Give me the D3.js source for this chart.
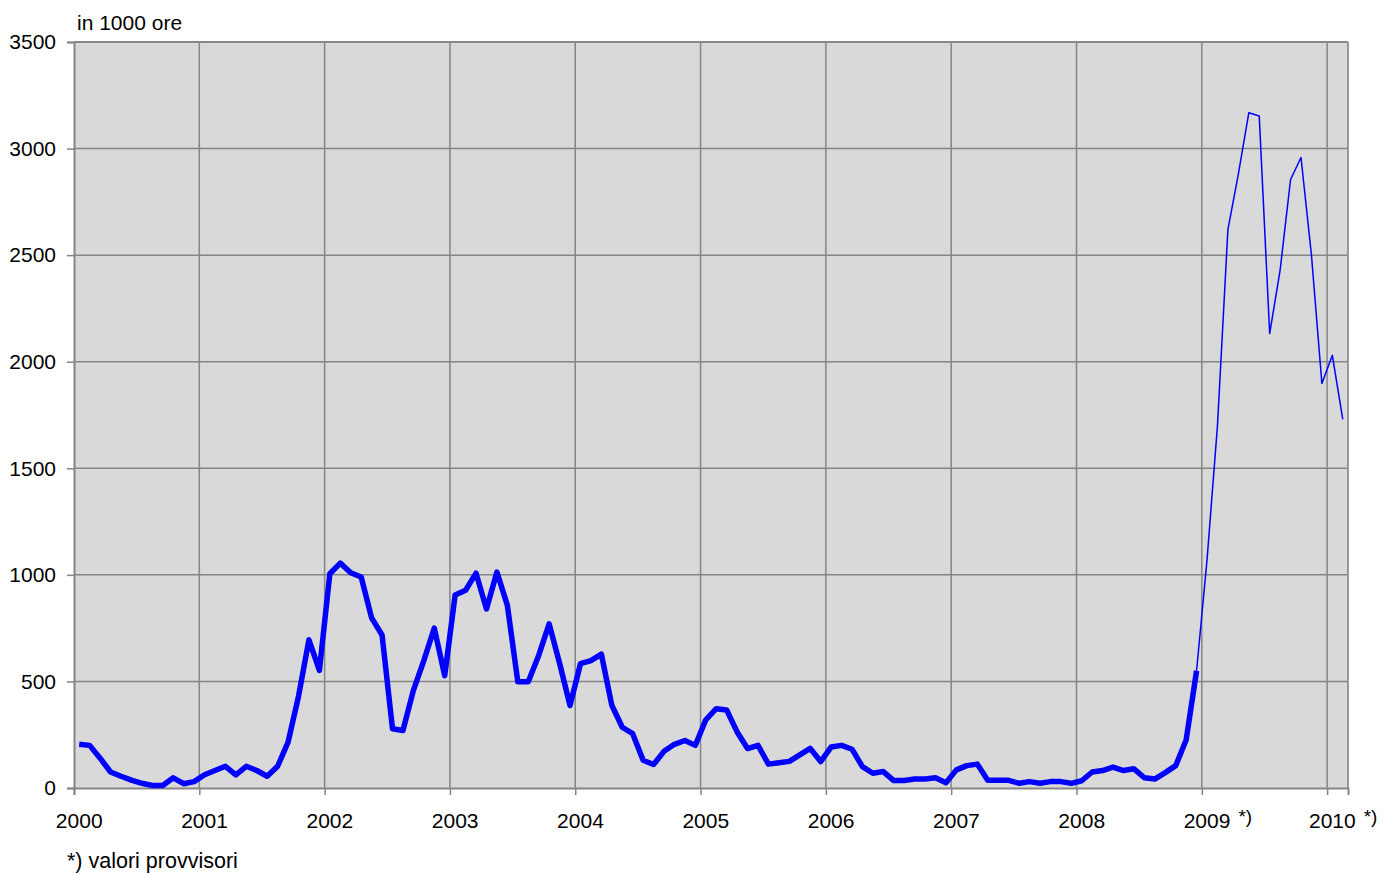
<!DOCTYPE html>
<html>
<head>
<meta charset="utf-8">
<script src="https://cdn.jsdelivr.net/npm/d3@7"></script>
<style>
  html, body { margin: 0; padding: 0; background: #ffffff; }
  svg { display: block; font-family: "Liberation Sans", Arial, sans-serif; }
</style>
</head>
<body>
<svg id="chart" width="1395" height="874"></svg>
<script>
// ---- Data (monthly, Jan 2000 – Feb 2010, in 1000 hours) ----
const yearLabels = ["2000","2001","2002","2003","2004","2005","2006","2007","2008","2009","2010"];
const provisionalYears = ["2009","2010"];
const yTicks = [0, 500, 1000, 1500, 2000, 2500, 3000, 3500];
const values = [
  205, 200, 140, 75, 55, 37, 22, 12, 12, 48, 20, 30,          // 2000
  62, 82, 102, 62, 102, 82, 55, 102, 215, 430, 695, 552,     // 2001
  1005, 1055, 1010, 990, 798, 718, 278, 270, 458, 598, 750, 527, // 2002
  906, 928, 1008, 840, 1013, 857, 498, 498, 622, 770, 585, 387,  // 2003
  583, 598, 628, 388, 285, 255, 130, 110, 172, 205, 223, 200,    // 2004
  320, 372, 366, 263, 185, 200, 112, 118, 125, 155, 186, 124,    // 2005
  192, 200, 182, 100, 69, 77, 35, 35, 42, 42, 48, 25,            // 2006
  85, 105, 112, 36, 36, 36, 22, 30, 22, 30, 30, 22,              // 2007
  34, 75, 82, 98, 82, 90, 48, 42, 72, 105, 225, 550,             // 2008
  1070, 1700, 2620, 2880, 3168, 3153, 2132, 2430, 2855, 2958, 2500, 1898, // 2009 *)
  2030, 1730                                                      // 2010 *)
];
const provisionalFrom = 107; // Dec 2008: thin line (provisional values) starts here
const unitLabel = "in 1000 ore";
const noteLabel = "*) valori provvisori";

// ---- Layout ----
const L = 74, R = 1348, T = 42, B = 788;
const svg = d3.select("#chart");
const nMonths = 122;

const x = d3.scaleLinear().domain([0, nMonths]).range([L, R]);
const y = d3.scaleLinear().domain([0, 3500]).range([B, T]);

// Plot background
svg.append("rect").attr("x", L).attr("y", T).attr("width", R - L).attr("height", B - T)
  .attr("fill", "#D9D9D9");

// Horizontal gridlines
svg.append("g").selectAll("line").data(yTicks.filter(v => v > 0)).join("line")
  .attr("x1", L).attr("x2", R).attr("y1", d => y(d)).attr("y2", d => y(d))
  .attr("stroke", "#858585").attr("stroke-width", 1.5);

// Vertical gridlines (at each January)
svg.append("g").selectAll("line").data(yearLabels.map((d, i) => i * 12).filter(v => v > 0)).join("line")
  .attr("x1", d => x(d)).attr("x2", d => x(d)).attr("y1", T).attr("y2", B)
  .attr("stroke", "#858585").attr("stroke-width", 1.5);

// Borders
svg.append("line").attr("x1", L).attr("x2", R).attr("y1", T).attr("y2", T)
  .attr("stroke", "#888").attr("stroke-width", 2);
svg.append("line").attr("x1", R).attr("x2", R).attr("y1", T).attr("y2", B)
  .attr("stroke", "#999").attr("stroke-width", 2);

// Y axis
const yAxis = svg.append("g").attr("transform", `translate(${L},0)`)
  .call(d3.axisLeft(y).tickValues(yTicks).tickSize(7).tickPadding(10).tickFormat(d3.format("d")));
yAxis.select(".domain").attr("stroke", "#858585").attr("stroke-width", 2);
yAxis.selectAll(".tick line").attr("stroke", "#858585").attr("stroke-width", 1.5);
yAxis.selectAll(".tick text").attr("font-size", 21).attr("fill", "#000")
  .attr("font-family", "Liberation Sans, Arial, sans-serif").attr("dx", "-1");

// X axis (ticks at each January, labels at first month centre)
const xAxis = svg.append("g").attr("transform", `translate(0,${B})`)
  .call(d3.axisBottom(x).tickValues(yearLabels.map((d, i) => i * 12)).tickSize(7).tickFormat(""));
xAxis.select(".domain").attr("stroke", "#858585").attr("stroke-width", 2);
xAxis.selectAll(".tick line").attr("stroke", "#858585").attr("stroke-width", 1.5);

const xl = svg.append("g");
yearLabels.forEach((lab, i) => {
  const cx = x(i * 12 + 0.5);
  const t = xl.append("text").attr("x", cx).attr("y", 828).attr("text-anchor", "middle")
    .attr("font-size", 21).attr("fill", "#000").text(lab);
  if (provisionalYears.includes(lab)) {
    const w = t.node().getComputedTextLength();
    xl.append("text").attr("x", cx + w / 2 + 8).attr("y", 823)
      .attr("font-size", 19).attr("fill", "#000").text("*)");
  }
});

// Lines
const line = d3.line().x(d => x(d.i + 0.5)).y(d => y(d.v));
const pts = values.map((v, i) => ({ i, v }));

svg.append("path").datum(pts.slice(provisionalFrom))
  .attr("d", line).attr("fill", "none").attr("stroke", "#0000FF")
  .attr("stroke-width", 1.5).attr("stroke-linejoin", "round");

svg.append("path").datum(pts.slice(0, provisionalFrom + 1))
  .attr("d", line).attr("fill", "none").attr("stroke", "#0000FF")
  .attr("stroke-width", 5.5).attr("stroke-linejoin", "round").attr("stroke-linecap", "butt");

// Texts
svg.append("text").attr("x", 77).attr("y", 30).attr("font-size", 21).attr("fill", "#000").text(unitLabel);
svg.append("text").attr("x", 67).attr("y", 868).attr("font-size", 21.5).attr("fill", "#000").text(noteLabel);
</script>
</body>
</html>
